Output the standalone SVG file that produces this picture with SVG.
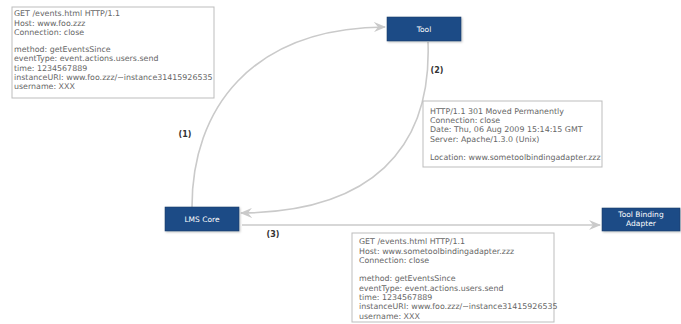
<svg xmlns="http://www.w3.org/2000/svg" width="681" height="324" viewBox="0 0 681 324">
<defs>
<style>
.note{fill:#fff;stroke:#bdbdbd;stroke-width:1}
.nt{font-family:"DejaVu Sans",Verdana,sans-serif;font-size:7.9px;fill:#666}
.node{fill:#1f4b86;stroke:#15355f;stroke-width:0.5}
.nl{font-family:"DejaVu Sans",Verdana,sans-serif;font-size:7.5px;fill:#fff;text-anchor:middle}
.con{fill:none;stroke:#cacaca;stroke-width:1.6}
.lab{font-family:"DejaVu Sans",Verdana,sans-serif;font-size:8px;font-weight:bold;fill:#333;text-anchor:middle}
</style>
<marker id="ah" viewBox="0 0 12 10" refX="11" refY="5" markerWidth="12" markerHeight="10" markerUnits="userSpaceOnUse" orient="auto">
<path d="M0,0 L12,5 L0,10 L4,5 z" fill="#cacaca"/>
</marker>
<filter id="sh" x="-10%" y="-20%" width="130%" height="160%"><feDropShadow dx="1" dy="1" stdDeviation="0.8" flood-color="#000" flood-opacity="0.25"/></filter>
</defs>
<g id="connectors">
<path class="con" d="M192,207 C192,110 250,28 385,27" marker-end="url(#ah)"/>
<path class="con" d="M428,42 C432,150 370,212 241,213" marker-end="url(#ah)"/>
<path class="con" d="M242,225 L600,225" marker-end="url(#ah)"/>
<text class="lab" x="185" y="137">(1)</text>
<text class="lab" x="437" y="73">(2)</text>
<text class="lab" x="273" y="237">(3)</text>
</g>
<g id="note1">
<rect class="note" x="12" y="7" width="202" height="91"/>
<text class="nt" x="14" y="16">GET /events.html HTTP/1.1</text>
<text class="nt" x="14" y="26">Host: www.foo.zzz</text>
<text class="nt" x="14" y="35">Connection: close</text>
<text class="nt" x="14" y="52">method: getEventsSince</text>
<text class="nt" x="14" y="61">eventType: event.actions.users.send</text>
<text class="nt" x="14" y="71">time: 1234567889</text>
<text class="nt" x="14" y="80">instanceURI: www.foo.zzz/~instance31415926535</text>
<text class="nt" x="14" y="89">username: XXX</text>
</g>
<g id="note2">
<rect class="note" x="423" y="101" width="179" height="66"/>
<text class="nt" x="430" y="114">HTTP/1.1 301 Moved Permanently</text>
<text class="nt" x="430" y="123">Connection: close</text>
<text class="nt" x="430" y="132">Date: Thu, 06 Aug 2009 15:14:15 GMT</text>
<text class="nt" x="430" y="142">Server: Apache/1.3.0 (Unix)</text>
<text class="nt" x="430" y="160">Location: www.sometoolbindingadapter.zzz</text>
</g>
<g id="note3">
<rect class="note" x="352" y="233" width="202" height="89"/>
<text class="nt" x="359" y="244">GET /events.html HTTP/1.1</text>
<text class="nt" x="359" y="254">Host: www.sometoolbindingadapter.zzz</text>
<text class="nt" x="359" y="263">Connection: close</text>
<text class="nt" x="359" y="281">method: getEventsSince</text>
<text class="nt" x="359" y="291">eventType: event.actions.users.send</text>
<text class="nt" x="359" y="300">time: 1234567889</text>
<text class="nt" x="359" y="309">instanceURI: www.foo.zzz/~instance31415926535</text>
<text class="nt" x="359" y="319">username: XXX</text>
</g>
<g id="tool">
<rect class="node" x="387" y="17" width="74" height="24" filter="url(#sh)"/>
<text class="nl" x="424" y="32">Tool</text>
</g>
<g id="lms-core">
<rect class="node" x="165" y="207" width="74" height="24" filter="url(#sh)"/>
<text class="nl" x="202" y="222">LMS Core</text>
</g>
<g id="tool-binding-adapter">
<rect class="node" x="602" y="208" width="78" height="23" filter="url(#sh)"/>
<text class="nl" x="641" y="217">Tool Binding</text>
<text class="nl" x="641" y="226">Adapter</text>
</g>
</svg>
